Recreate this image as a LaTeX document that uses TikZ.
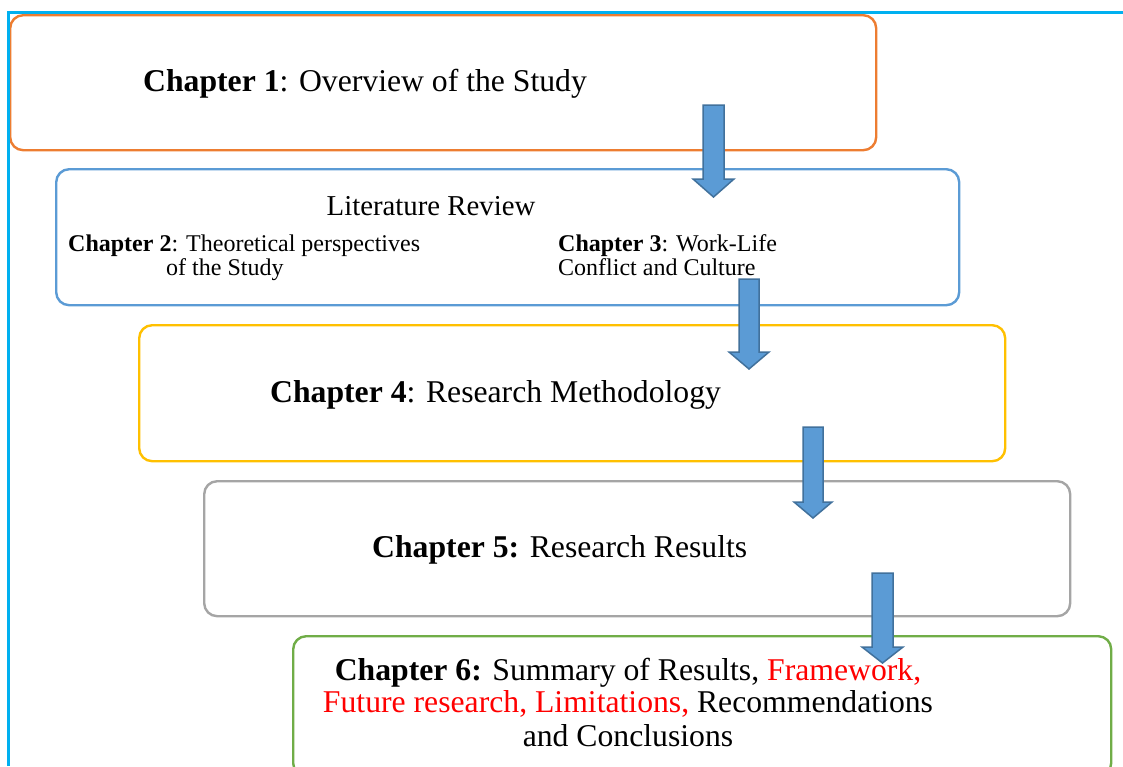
\documentclass[tikz,border=0pt]{standalone}
\usepackage{fontspec}
\setmainfont{Liberation Serif}
\definecolor{frameblue}{HTML}{00B0F0}
\definecolor{c1orange}{HTML}{ED7D31}
\definecolor{c2blue}{HTML}{5B9BD5}
\definecolor{c3gold}{HTML}{FFC000}
\definecolor{c4gray}{HTML}{A5A5A5}
\definecolor{c5green}{HTML}{70AD47}
\definecolor{arrowfill}{HTML}{5B9BD5}
\definecolor{arrowedge}{HTML}{41719C}
\definecolor{hlred}{HTML}{FF0000}
\newcommand\chapfont{\fontsize{31.7}{33}\selectfont}
\newcommand\subfont{\fontsize{24}{25}\selectfont}
\newcommand\headfont{\fontsize{28.8}{30}\selectfont}
\tikzset{
  chapbox/.style={draw, line width=2.4pt, rounded corners=13pt, fill=white,
    anchor=north west, inner sep=0pt},
  label/.style={inner sep=0pt, anchor=base west, text=black},
  clabel/.style={inner sep=0pt, anchor=base, text=black},
  blockarrow/.style={fill=arrowfill, draw=arrowedge, line width=1.5pt, line join=miter},
  frameline/.style={draw=frameblue, line width=2.6pt}
}
\begin{document}
\begin{tikzpicture}[x=1pt,y=-1pt]
\useasboundingbox (0,0) rectangle (1123,766);

% chapter boxes
\node[chapbox, draw=c1orange, minimum width=866pt, minimum height=135pt] (b1) at (9,14) {};
\node[chapbox, draw=c2blue,   minimum width=903pt, minimum height=136pt] (b2) at (55,168) {};
\node[chapbox, draw=c3gold,   minimum width=866pt, minimum height=136pt] (b3) at (138,324) {};
\node[chapbox, draw=c4gray,   minimum width=866pt, minimum height=135pt] (b4) at (203,480) {};
\node[chapbox, draw=c5green,  minimum width=818pt, minimum height=140pt] (b5) at (292,635) {};

% box texts
\node[label, font=\chapfont] (t1) at (143,91) {\textbf{Chapter 1}: Overview of the Study};

\node[clabel, font=\headfont] (t2h) at (431,215) {Literature Review};
\node[label, font=\subfont] (t2a) at (68,251) {\textbf{Chapter 2}: Theoretical perspectives};
\node[label, font=\subfont] (t2b) at (166,275) {of the Study};
\node[label, font=\subfont] (t3a) at (558,251) {\textbf{Chapter 3}: Work-Life};
\node[label, font=\subfont] (t3b) at (558,275) {Conflict and Culture};

\node[label, font=\chapfont] (t4) at (270,402) {\textbf{Chapter 4}: Research Methodology};
\node[label, font=\chapfont] (t5) at (372,557) {\textbf{Chapter 5:} Research Results};

\node[clabel, font=\chapfont] (t6a) at (628,680) {\textbf{Chapter 6:} Summary of Results, \textcolor{hlred}{Framework,}};
\node[clabel, font=\chapfont] (t6b) at (628,712) {\textcolor{hlred}{Future research, Limitations,} Recommendations};
\node[clabel, font=\chapfont] (t6c) at (628,746) {and Conclusions};

% block arrows between chapters
\path[blockarrow] (703,105) -- (724,105) -- (724,179) -- (734,179) -- (713.5,197)
  -- (693,179) -- (703,179) -- cycle;
\path[blockarrow] (739,279) -- (759,279) -- (759,352) -- (769,352) -- (749,369)
  -- (729,352) -- (739,352) -- cycle;
\path[blockarrow] (803,427) -- (823,427) -- (823,502) -- (832,502) -- (813,518)
  -- (794,502) -- (803,502) -- cycle;
\path[blockarrow] (872,573) -- (893,573) -- (893,647) -- (903,647) -- (882.5,663)
  -- (862,647) -- (872,647) -- cycle;

% page frame
\path[frameline] (8.5,766) -- (8.5,12.5) -- (1123,12.5);
\end{tikzpicture}
\end{document}
